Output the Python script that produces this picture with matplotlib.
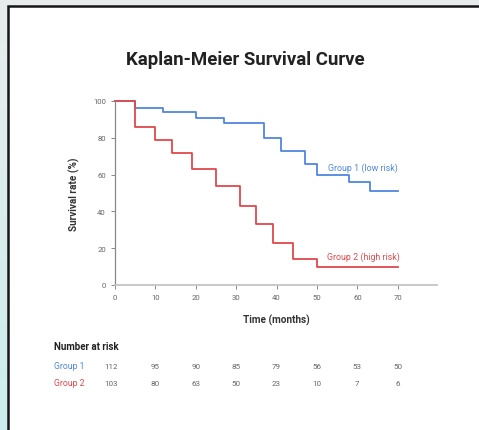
import numpy as np
import matplotlib.pyplot as plt
from matplotlib.patches import Rectangle

plt.rcParams['font.family'] = ['Roboto', 'DejaVu Sans']

# survival steps (months, % surviving after each event)
g1_time = [0, 5, 12, 20, 27, 37, 41, 47, 50, 58, 63, 70]
g1_surv = [100, 96, 94, 91, 88, 80, 73, 66, 60, 56, 51, 51]
g2_time = [0, 5, 10, 14, 19, 25, 31, 35, 39, 44, 50, 70]
g2_surv = [100, 86, 79, 72, 63, 54, 43, 33, 23, 14, 10, 10]

risk_times = [0, 10, 20, 30, 40, 50, 60, 70]
g1_risk = [112, 95, 90, 85, 79, 56, 53, 50]
g2_risk = [103, 80, 63, 50, 23, 10, 7, 6]

blue = '#4f86e0'
red = '#e0484c'

fig = plt.figure(figsize=(4.79, 4.31), dpi=100)
fig.patch.set_facecolor('#e9ecec')

# left strip fades from grey to pale cyan
bg = fig.add_axes([0, 0, 1, 1], zorder=-2)
grad = np.linspace(0, 1, 256).reshape(-1, 1)
cols = np.array([[0.91, 0.925, 0.925], [0.80, 0.93, 0.93]])
img = cols[0] * (1 - grad[..., None]) + cols[1] * grad[..., None]
bg.imshow(img, extent=[0, 1, 0, 1], aspect='auto', origin='upper')
bg.set_xlim(0, 1)
bg.set_ylim(0, 1)
bg.axis('off')
bg.add_patch(Rectangle((8 / 479, -0.02), 1.0, 1 - 7 / 431 + 0.02,
                       facecolor='white', edgecolor='#151515', lw=1.8))

ax = fig.add_axes([115 / 479, 1 - 286 / 431, (437 - 115) / 479, 184 / 431])
ax.set_facecolor('none')
ax.step(g1_time, g1_surv, where='post', color=blue, lw=1.3, clip_on=False)
ax.step(g2_time, g2_surv, where='post', color=red, lw=1.3, clip_on=False)

ax.text(52.7, 64, 'Group 1 (low risk)', color=blue, fontsize=6.4, va='center')
ax.text(52.5, 15.5, 'Group 2 (high risk)', color=red, fontsize=6.4, va='center')

ax.set_xlim(0, 79.7)
ax.set_ylim(0, 100)
ax.set_xticks(range(0, 80, 10))
ax.set_yticks(range(0, 101, 20))
ax.tick_params(colors='#888888', labelcolor='#666666', labelsize=5.6, length=3, width=0.7)
for s in ['top', 'right']:
    ax.spines[s].set_visible(False)
ax.spines['left'].set_color('#888888')
ax.spines['left'].set_linewidth(0.9)
ax.spines['bottom'].set_color('#c4c4c4')
ax.spines['bottom'].set_linewidth(1.3)

ax.set_xlabel('Time (months)', fontsize=7.2, fontweight='bold', color='#333333', labelpad=10)
ax.set_ylabel('Survival rate (%)', fontsize=7.2, fontweight='bold', color='#333333', labelpad=9)

fig.text(245 / 479, 1 - 60 / 431, 'Kaplan-Meier Survival Curve', ha='center', va='center',
         fontsize=13.4, fontweight='bold', color='#222222')

# number-at-risk table under the plot
fig.text(54 / 479, 1 - 347 / 431, 'Number at risk', fontsize=7, fontweight='bold',
         color='#222222', va='center')
fig.text(54 / 479, 1 - 367 / 431, 'Group 1', fontsize=6.2, color=blue, va='center')
fig.text(54 / 479, 1 - 384 / 431, 'Group 2', fontsize=6.2, color=red, va='center')
for t, n1, n2 in zip(risk_times, g1_risk, g2_risk):
    x = ax.transData.transform((t, 0))[0] / fig.bbox.width
    if t == 0:
        x -= 4 / 479
    fig.text(x, 1 - 367 / 431, str(n1), fontsize=5.8,
             color='#666666', ha='center', va='center')
    fig.text(x, 1 - 384 / 431, str(n2), fontsize=5.8,
             color='#666666', ha='center', va='center')

plt.savefig('out.png', dpi=100)
